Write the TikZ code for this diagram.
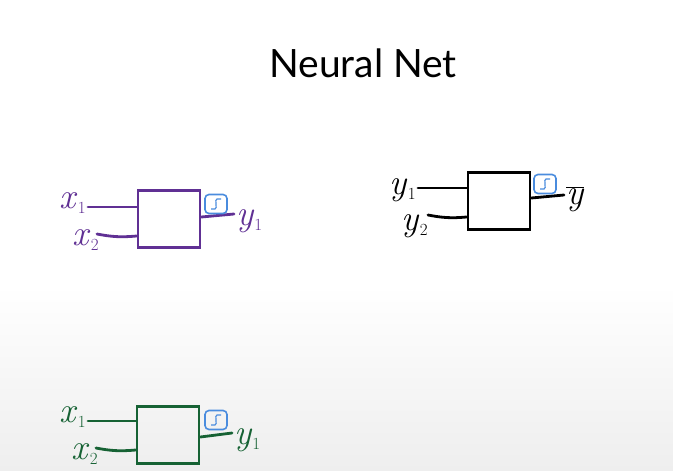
\documentclass[tikz,border=0pt]{standalone}
\usepackage{fontspec}
\newfontfamily\titlefont{Lato}
\usetikzlibrary{positioning}
\definecolor{penpurple}{RGB}{96,48,148}
\definecolor{pengreen}{RGB}{22,98,52}
\definecolor{penblue}{RGB}{74,140,222}
\definecolor{bggray}{RGB}{238,238,238}
\newcommand{\lbl}[2]{\textit{#1}\raisebox{-5pt}{\fontsize{17}{18}\selectfont #2}}

\begin{document}
\begin{tikzpicture}[x=1pt,y=-1pt,
	unit/.style={draw,line width=2.8pt,minimum width=62pt,minimum height=57pt,inner sep=0pt},
	wire/.style={line width=2.8pt,line cap=round},
	sig/.style={draw=penblue,line width=1.6pt,rounded corners=4pt,minimum width=22pt,minimum height=19pt,inner sep=0pt},
	lab/.style={font=\fontsize{36}{38}\selectfont,inner sep=0pt}]
	\useasboundingbox (0,0) rectangle (673,471);
	\fill[white] (0,0) rectangle (673,286);
	\shade[top color=white,bottom color=bggray] (0,285) rectangle (673,471);
	\node[font=\titlefont\fontsize{39}{42}\selectfont] (title) at (363,63) {Neural Net};
	% first unit (purple)
	\node[unit,draw=penpurple] (n1) at (169,219) {};
	\coordinate (p1) at (88,207);
	\coordinate (p2) at (97,234);
	\coordinate (o1) at (234,214);
	\node[lab,text=penpurple,anchor=east] (x1a) at (86,203) {\lbl{x}{1}};
	\node[lab,text=penpurple,anchor=east] (x2a) at (99,240) {\lbl{x}{2}};
	\node[lab,text=penpurple,anchor=west] (y1a) at (236,221) {\lbl{y}{1}};
	\draw[wire,penpurple] (p1) -- (p1 -| n1.west);
	\draw[wire,penpurple] (p2) to[bend right=8] ([yshift=-2pt]p2 -| n1.west);
	\draw[wire,penpurple] ([yshift=2pt]n1.east) -- (o1);
	\node[sig] (s1) at (216,204) {};
	\draw[penblue,line width=1.2pt] ([shift={(-5,5)}]s1.center) -- ([shift={(-1,5)}]s1.center)
		.. controls ([shift={(2,5)}]s1.center) and ([shift={(-2,-5)}]s1.center) .. ([shift={(1,-5)}]s1.center)
		-- ([shift={(5,-5)}]s1.center);
	% second unit (black)
	\node[unit] (n2) at (499,201) {};
	\coordinate (q1) at (418,188);
	\coordinate (q2) at (428,215);
	\coordinate (o2) at (564,195);
	\node[lab,anchor=east] (y1b) at (416,190) {\lbl{y}{1}};
	\node[lab,anchor=east] (y2b) at (428,226) {\lbl{y}{2}};
	\node[lab,anchor=west] (yb) at (566,199) {$\overline{\mbox{\textit{y}}}$};
	\draw[wire] (q1) -- (q1 -| n2.west);
	\draw[wire] (q2) to[bend right=8] ([yshift=-2pt]q2 -| n2.west);
	\draw[wire] ([yshift=3pt]n2.east) -- (o2);
	\node[sig] (s2) at (545,184) {};
	\draw[penblue,line width=1.2pt] ([shift={(-5,5)}]s2.center) -- ([shift={(-1,5)}]s2.center)
		.. controls ([shift={(2,5)}]s2.center) and ([shift={(-2,-5)}]s2.center) .. ([shift={(1,-5)}]s2.center)
		-- ([shift={(5,-5)}]s2.center);
	% third unit (green)
	\node[unit,draw=pengreen] (n3) at (168,435) {};
	\coordinate (r1) at (88,421);
	\coordinate (r2) at (96,448);
	\coordinate (o3) at (232,433);
	\node[lab,text=pengreen,anchor=east] (x1c) at (86,417) {\lbl{x}{1}};
	\node[lab,text=pengreen,anchor=east] (x2c) at (98,454) {\lbl{x}{2}};
	\node[lab,text=pengreen,anchor=west] (y1c) at (234,440) {\lbl{y}{1}};
	\draw[wire,pengreen] (r1) -- (r1 -| n3.west);
	\draw[wire,pengreen] (r2) to[bend right=8] ([yshift=-2pt]r2 -| n3.west);
	\draw[wire,pengreen] ([yshift=-2pt]n3.east) -- (o3);
	\node[sig] (s3) at (216,420) {};
	\draw[penblue,line width=1.2pt] ([shift={(-5,5)}]s3.center) -- ([shift={(-1,5)}]s3.center)
		.. controls ([shift={(2,5)}]s3.center) and ([shift={(-2,-5)}]s3.center) .. ([shift={(1,-5)}]s3.center)
		-- ([shift={(5,-5)}]s3.center);
\end{tikzpicture}
\end{document}
